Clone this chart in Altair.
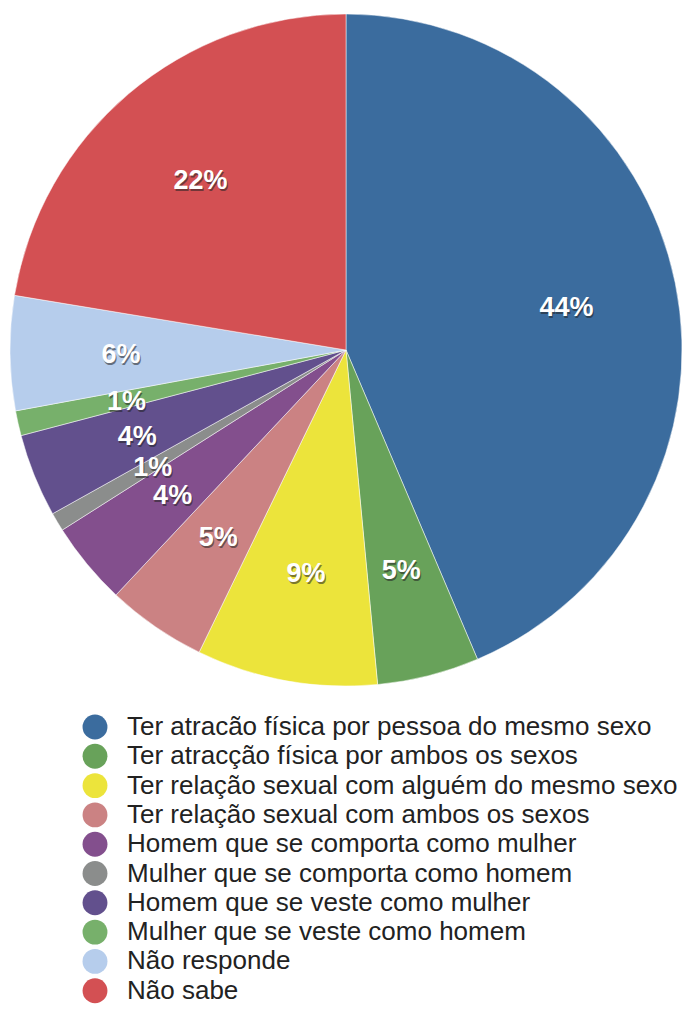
import altair as alt
import pandas as pd

categories = [
    "Ter atracão física por pessoa do mesmo sexo",
    "Ter atracção física por ambos os sexos",
    "Ter relação sexual com alguém do mesmo sexo",
    "Ter relação sexual com ambos os sexos",
    "Homem que se comporta como mulher",
    "Mulher que se comporta como homem",
    "Homem que se veste como mulher",
    "Mulher que se veste como homem",
    "Não responde",
    "Não sabe",
]
values = [43.6, 4.9, 8.7, 4.8, 4.0, 0.9, 4.0, 1.2, 5.5, 22.4]
labels = ["44%", "5%", "9%", "5%", "4%", "1%", "4%", "1%", "6%", "22%"]
colors = ["#3b6c9e", "#68a25a", "#ece43b", "#cb8283", "#834f8d",
          "#8b8d8c", "#62508d", "#77b06b", "#b6cdec", "#d35053"]

df = pd.DataFrame({
    "cat": categories,
    "value": values,
    "label": labels,
    "order": list(range(len(categories))),
})

FONT = "Liberation Sans"
CX, CY, R = 338, 342, 336

base = alt.Chart(df).encode(
    theta=alt.Theta("value:Q", stack=True),
    order=alt.Order("order:Q"),
    x=alt.value(CX),
    y=alt.value(CY),
)

pie = base.mark_arc(outerRadius=R, stroke="#ffffff", strokeWidth=0.5).encode(
    color=alt.Color(
        "cat:N",
        scale=alt.Scale(domain=categories, range=colors),
        sort=categories,
        legend=alt.Legend(
            title=None,
            orient="none",
            legendX=74,
            legendY=706,
            symbolType="circle",
            symbolSize=620,
            symbolStrokeWidth=0,
            labelFont=FONT,
            labelFontSize=26,
            labelColor="#222222",
            labelOffset=19,
            labelLimit=700,
            rowPadding=3.3,
            padding=0,
        ),
    )
)

shadow = base.mark_text(radius=225, font=FONT, fontSize=27, fontWeight="bold",
                        color="#222222", opacity=0.55, dx=1, dy=4.5).encode(text="label:N")
text = base.mark_text(radius=225, font=FONT, fontSize=27, fontWeight="bold",
                      color="#ffffff", dy=2.5).encode(text="label:N")

chart = alt.layer(pie, shadow, text).properties(
    width=675, height=1002, autosize=alt.AutoSizeParams(type="none"), padding=0
).configure_view(stroke=None)

chart.save("out.html", embed_options={"renderer": "svg", "actions": False})
